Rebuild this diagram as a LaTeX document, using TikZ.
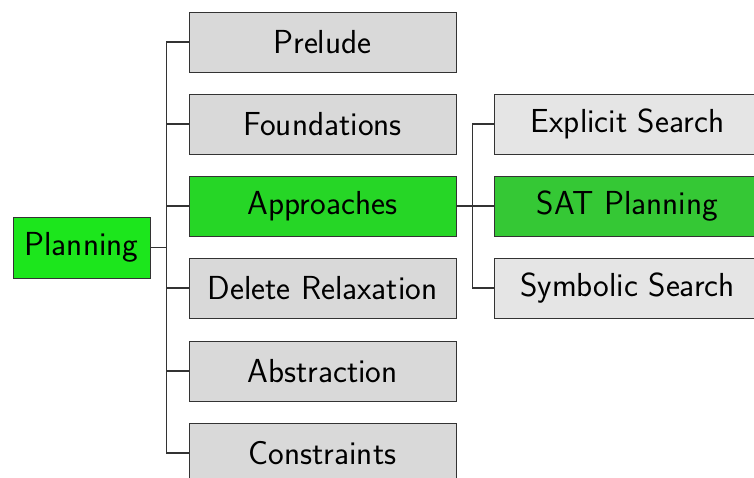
\documentclass[tikz,border=0pt]{standalone}
\usepackage{tikz}
\definecolor{rootg}{RGB}{28,230,28}
\definecolor{midg}{RGB}{38,214,38}
\definecolor{leafg}{RGB}{53,200,53}
\tikzset{
  x=1pt,y=1pt,
  box/.style={draw=black!80, line width=0.9pt, minimum height=60pt, inner sep=0pt,
    font=\sffamily\fontsize{33.3}{38}\selectfont, anchor=center},
  lone/.style={box, minimum width=267pt, fill=gray!30},
  ltwo/.style={box, minimum width=267pt, fill=gray!20},
  conn/.style={draw=black!80, line width=1.2pt},
}
\begin{document}
\begin{tikzpicture}
\useasboundingbox (0,0) rectangle (754,478);
\node[box, minimum width=137pt, minimum height=61pt, fill=rootg] (plan) at (81.5,230.5) {Planning};
\node[lone] (pre) at (322.5,436) {Prelude};
\node[lone] (fou) at (322.5,354) {Foundations};
\node[lone, fill=midg] (app) at (322.5,272) {Approaches};
\node[lone] (del) at (322.5,190) {Delete Relaxation};
\node[lone] (abs) at (322.5,107) {Abstraction};
\node[lone] (con) at (322.5,25) {Constraints};
\node[ltwo] (exp) at (627.5,354) {Explicit Search};
\node[ltwo, fill=leafg] (sat) at (627.5,272) {SAT Planning};
\node[ltwo] (sym) at (627.5,190) {Symbolic Search};
\foreach \c in {pre,fou,app,del,abs,con}
  \draw[conn] (plan.east) -- ++(16,0) |- (\c.west);
\foreach \c in {exp,sat,sym}
  \draw[conn] (app.east) -- ++(16,0) |- (\c.west);
\end{tikzpicture}
\end{document}
